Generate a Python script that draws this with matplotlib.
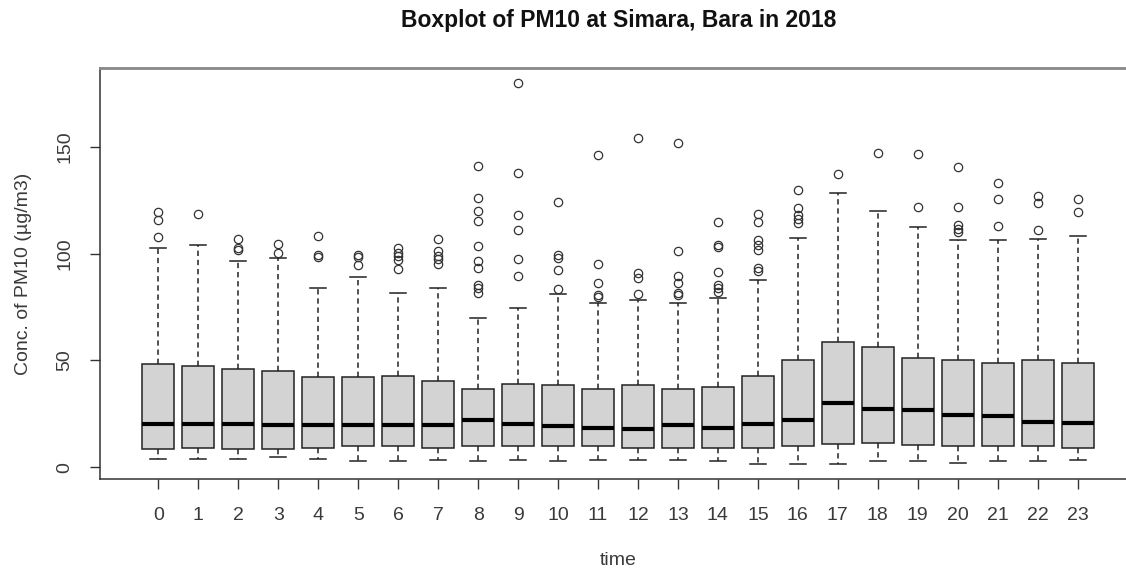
import matplotlib
matplotlib.use("Agg")
import matplotlib.pyplot as plt

plt.rcParams['font.family'] = ['Liberation Sans', 'DejaVu Sans']

# hourly PM10 box statistics
hours = list(range(24))
med = [20.4, 20.4, 20.4, 19.7, 19.7, 19.7, 19.9, 19.9, 21.9, 20.4, 19.3, 18.5,
       18.0, 19.6, 18.5, 20.4, 21.9, 30.2, 27.4, 26.6, 24.3, 23.8, 21.4, 20.9]
q1 = [8.7, 9.0, 8.6, 8.6, 9.2, 10.0, 9.9, 9.1, 9.9, 9.9, 9.9, 9.9,
      9.1, 9.1, 9.1, 9.1, 9.9, 11.0, 11.3, 10.2, 9.9, 9.9, 9.9, 9.1]
q3 = [48.1, 47.4, 45.9, 45.0, 42.3, 42.3, 42.6, 40.4, 36.8, 38.8, 38.4, 36.8,
      38.4, 36.8, 37.6, 42.6, 50.1, 58.4, 56.4, 50.9, 50.1, 49.0, 50.1, 49.0]
whislo = [3.9, 3.9, 3.9, 4.7, 3.9, 2.7, 2.7, 3.6, 2.7, 3.6, 2.7, 3.6,
          3.6, 3.6, 2.7, 1.6, 1.6, 1.6, 2.7, 2.7, 1.9, 2.7, 2.7, 3.6]
whishi = [102.6, 103.8, 96.6, 98.0, 83.8, 89.0, 81.4, 83.8, 70.0, 74.4, 81.0, 77.0,
          78.3, 77.0, 79.1, 87.7, 107.3, 128.1, 119.8, 112.3, 106.5, 106.5, 107.0, 108.0]
fliers = [
    [107.6, 115.9, 119.5],
    [118.5],
    [101.8, 102.6, 107.0],
    [100.2, 104.4],
    [98.4, 99.1, 108.4],
    [94.7, 98.4, 99.4],
    [92.7, 97.1, 98.7, 100.3, 102.6],
    [95.2, 97.4, 98.7, 101.3, 106.8],
    [81.4, 83.8, 85.3, 93.2, 96.6, 103.3, 115.1, 119.8, 126.1, 140.9],
    [89.6, 97.6, 111.2, 118.2, 137.5, 179.7],
    [83.3, 92.4, 97.9, 99.4, 124.0],
    [79.6, 80.6, 86.4, 95.1, 146.1],
    [81.0, 88.5, 91.1, 154.2],
    [80.6, 81.4, 86.4, 89.6, 101.0, 151.9],
    [82.2, 83.8, 85.3, 91.3, 102.9, 104.1, 114.8],
    [91.6, 93.2, 101.8, 104.1, 106.5, 114.8, 118.7],
    [114.3, 116.2, 117.8, 121.4, 129.5],
    [137.0],
    [147.2],
    [121.8, 146.7],
    [110.1, 111.5, 113.2, 121.8, 140.5],
    [112.7, 125.7, 133.1],
    [110.9, 123.7, 127.1],
    [119.5, 125.6],
]

stats = []
for i in range(len(hours)):
    stats.append(dict(med=med[i], q1=q1[i], q3=q3[i], whislo=whislo[i],
                      whishi=whishi[i], fliers=fliers[i], label=str(hours[i])))

fig = plt.figure(figsize=(11.26, 5.71), dpi=100)
# plot region runs off the right edge, like the cropped original
ax = fig.add_axes([100/1126, 92/571, 1036/1126, 411/571])

ax.bxp(stats, positions=hours, widths=0.8, patch_artist=True,
       boxprops=dict(facecolor='#d3d3d3', edgecolor='#222222', linewidth=1.1),
       medianprops=dict(color='black', linewidth=3),
       whiskerprops=dict(color='#222222', linewidth=1.1, linestyle=(0, (3.5, 2.5))),
       capprops=dict(color='#222222', linewidth=1.1),
       capwidths=0.4,
       flierprops=dict(marker='o', markerfacecolor='none', markeredgecolor='#333333',
                       markersize=6, markeredgewidth=0.9))

ax.set_xlim(-1.46, 24.46)
ax.set_ylim(-5.5, 186.8)
ax.set_yticks([0, 50, 100, 150])
ax.set_yticklabels(['0', '50', '100', '150'], rotation=90, va='center')
ax.set_xticks(hours)
ax.set_xticklabels([str(h) for h in hours])
ax.tick_params(axis='both', direction='out', length=7, width=1, color='#333333',
               labelsize=14, labelcolor='#3a3a3a')
ax.tick_params(axis='x', pad=13)
ax.tick_params(axis='y', pad=12)

for s in ax.spines.values():
    s.set_color('#333333')
    s.set_linewidth(1.1)
ax.spines['top'].set_color('#888888')
ax.spines['top'].set_linewidth(2)

ax.set_xlabel('time', fontsize=14, color='#3a3a3a', labelpad=20)
ax.set_ylabel('Conc. of PM10 (µg/m3)', fontsize=14, color='#3a3a3a', labelpad=18)
fig.text(619/1126, 1 - 21/571, 'Boxplot of PM10 at Simara, Bara in 2018',
         ha='center', va='center', fontsize=16.5, fontweight='bold', color='#111111')

fig.savefig('out.png', dpi=100)
